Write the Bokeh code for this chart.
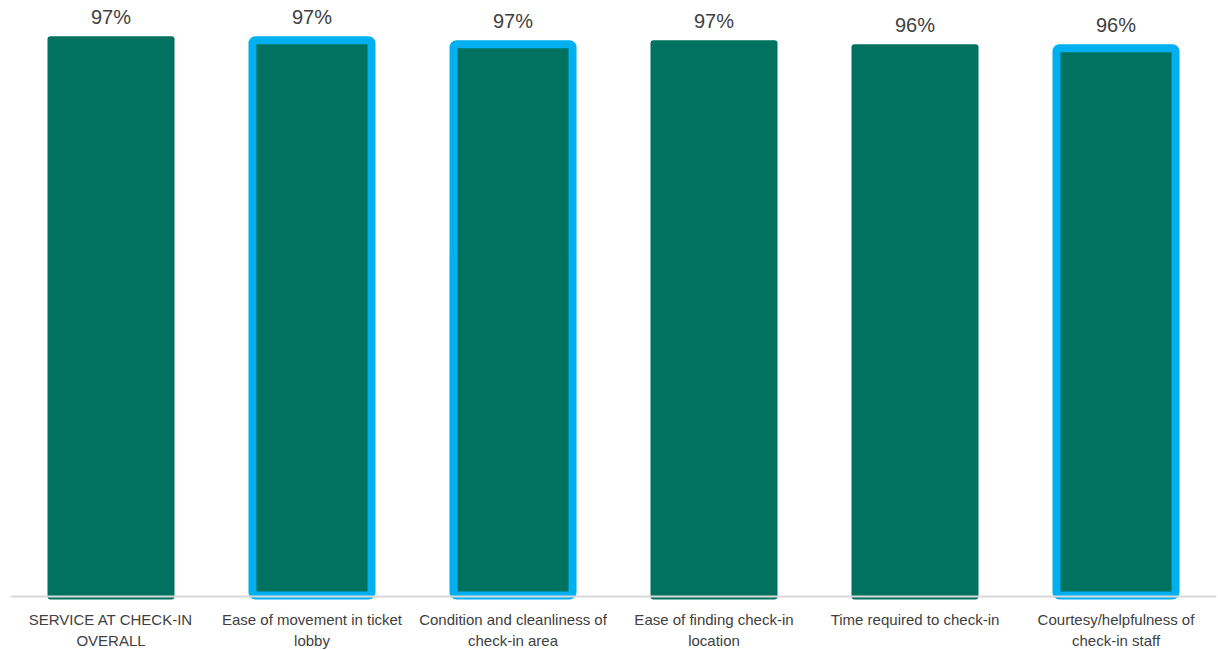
from bokeh.plotting import figure
from bokeh.models import ColumnDataSource, Range1d, FactorRange, Span
from bokeh.core.properties import value
from bokeh.embed import file_html
from bokeh.resources import INLINE

# Satisfaction scores (percent satisfied) for check-in attributes
categories = [
    "SERVICE AT CHECK-IN\nOVERALL",
    "Ease of movement in ticket\nlobby",
    "Condition and cleanliness of\ncheck-in area",
    "Ease of finding check-in\nlocation",
    "Time required to check-in",
    "Courtesy/helpfulness of\ncheck-in staff",
]
scores = [97.4, 97.4, 96.7, 96.7, 96.0, 96.0]
highlighted = [False, True, True, False, False, True]

GREEN = "#00725F"
BLUE = "#00B0F0"
TEXT = "#404040"
FONT = "Liberation Sans"

W, H = 1218, 650
Y0, Y1 = -8.82, 103.57
px = (Y1 - Y0) / H          # data units per screen pixel (vertical)
BORDER = 8                  # outline thickness of highlighted bars, px
BAR_W = 0.632               # bar width in category units

p = figure(
    width=W, height=H,
    x_range=FactorRange(factors=categories),
    y_range=Range1d(Y0, Y1),
    output_backend="svg", toolbar_location=None,
    min_border_left=10, min_border_right=2, min_border_top=0, min_border_bottom=0,
)
p.axis.visible = False
p.grid.visible = False
p.outline_line_color = None
p.background_fill_color = "white"
p.border_fill_color = "white"

plain = ColumnDataSource(dict(
    x=[c for c, h in zip(categories, highlighted) if not h],
    top=[s for s, h in zip(scores, highlighted) if not h],
))
hl = [(c, s) for c, s, h in zip(categories, scores, highlighted) if h]
outlined = ColumnDataSource(dict(
    x=[c for c, _ in hl],
    top=[s - BORDER / 2 * px for _, s in hl],
    bottom=[BORDER / 2 * px] * len(hl),
))

p.vbar(x="x", top="top", bottom=0, width=BAR_W, source=plain,
       fill_color=GREEN, line_color=None, border_radius=3)
p.vbar(x="x", top="top", bottom="bottom", width=BAR_W - BORDER / 201,
       source=outlined, fill_color=GREEN, line_color=BLUE,
       line_width=BORDER, border_radius=3)

# baseline rule
p.add_layout(Span(location=3 * px, dimension="width", line_color="#D9D9D9",
                  line_width=2, level="overlay"))

labels = ColumnDataSource(dict(
    x=categories, y=scores, txt=[f"{round(s)}%" for s in scores],
))
p.text(x="x", y="y", text="txt", source=labels, text_align="center",
       text_baseline="alphabetic", y_offset=-19, text_font=value(FONT),
       text_font_size="20px", text_color=TEXT)

cats = ColumnDataSource(dict(x=categories, y=[0] * len(categories), txt=categories))
p.text(x="x", y="y", text="txt", source=cats, text_align="center",
       text_baseline="top", y_offset=12, text_font=value(FONT),
       text_font_size="15px", text_color=TEXT, text_line_height=1.2)

open("out.html", "w").write(file_html(p, INLINE))
